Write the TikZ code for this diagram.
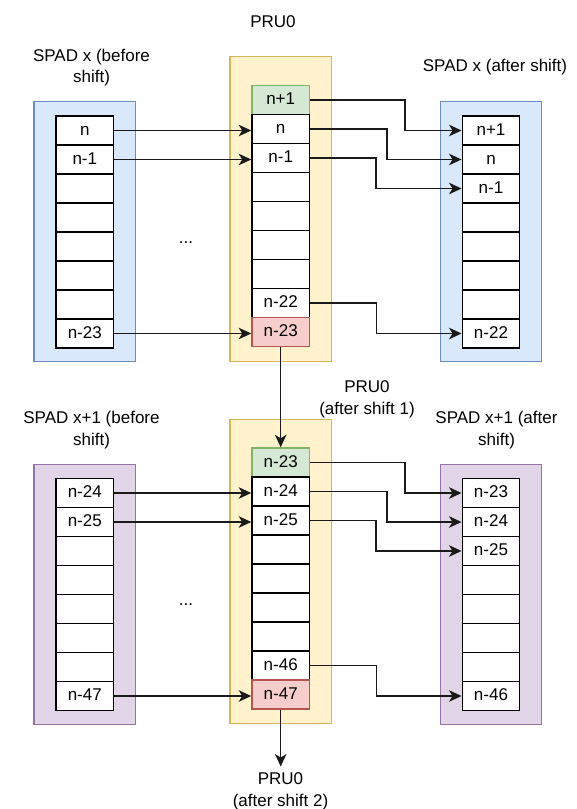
\documentclass[tikz,border=0pt]{standalone}
\usepackage{fontspec}
\setmainfont{Liberation Sans}
\usetikzlibrary{arrows.meta}

\definecolor{bluefill}{HTML}{DAE8FC}
\definecolor{bluedraw}{HTML}{6C8EBF}
\definecolor{yellowfill}{HTML}{FFF2CC}
\definecolor{yellowdraw}{HTML}{D6B656}
\definecolor{greenfill}{HTML}{D5E8D4}
\definecolor{greendraw}{HTML}{82B366}
\definecolor{redfill}{HTML}{F8CECC}
\definecolor{reddraw}{HTML}{B85450}
\definecolor{purplefill}{HTML}{E1D5E7}
\definecolor{purpledraw}{HTML}{9673A6}
\definecolor{edge}{HTML}{1A1A1A}

\begin{document}
\begin{tikzpicture}[x=1pt,y=-1pt,
  font=\fontsize{17pt}{21.5pt}\selectfont,
  panel/.style={line width=1.4pt, minimum width=101.5pt, inner sep=0pt, anchor=north},
  cell/.style={draw=black, fill=white, line width=1.45pt, minimum width=57.5pt,
    minimum height=29pt, inner sep=0pt, text height=12pt, text depth=3pt},
  conn/.style={draw=edge, line width=1.5pt, -{Stealth[length=12.5pt,width=11.5pt,inset=3.5pt]}},
  caption/.style={align=center, inner sep=0pt},
]
\useasboundingbox[fill=white] (0,0) rectangle (576,809);

% ---------- first register: SPAD x ----------
\node[panel, fill=bluefill, draw=bluedraw, minimum height=260pt] (TLp) at (84.8,101) {};
\node[panel, fill=yellowfill, draw=yellowdraw, minimum height=304.5pt] (TCp) at (280.7,56) {};
\node[panel, fill=bluefill, draw=bluedraw, minimum height=260pt] (TRp) at (491,101) {};

\foreach \t [count=\i] in {n,n-1,{},{},{},{},{},n-23}
  \node[cell] (TL\i) at (84.8,{130.5+29*(\i-1)}) {\t};

\node[cell, fill=greenfill, draw=greendraw] (TC1) at (280.7,100) {n+1};
\foreach \t [count=\i from 2] in {n,n-1,{},{},{},{},n-22}
  \node[cell] (TC\i) at (280.7,{100+29*(\i-1)}) {\t};
\node[cell, fill=redfill, draw=reddraw] (TC9) at (280.7,332) {n-23};

\foreach \t [count=\i] in {n+1,n,n-1,{},{},{},{},n-22}
  \node[cell] (TR\i) at (491,{130.5+29*(\i-1)}) {\t};

% ---------- second register: SPAD x+1 ----------
\node[panel, fill=purplefill, draw=purpledraw, minimum height=260pt] (BLp) at (84.8,463.5) {};
\node[panel, fill=yellowfill, draw=yellowdraw, minimum height=304.5pt] (BCp) at (280.7,418.5) {};
\node[panel, fill=purplefill, draw=purpledraw, minimum height=260pt] (BRp) at (491,463.5) {};

\foreach \t [count=\i] in {n-24,n-25,{},{},{},{},{},n-47}
  \node[cell] (BL\i) at (84.8,{493+29*(\i-1)}) {\t};

\node[cell, fill=greenfill, draw=greendraw] (BC1) at (280.7,462.5) {n-23};
\foreach \t [count=\i from 2] in {n-24,n-25,{},{},{},{},n-46}
  \node[cell] (BC\i) at (280.7,{462.5+29*(\i-1)}) {\t};
\node[cell, fill=redfill, draw=reddraw] (BC9) at (280.7,694.5) {n-47};

\foreach \t [count=\i] in {n-23,n-24,n-25,{},{},{},{},n-46}
  \node[cell] (BR\i) at (491,{493+29*(\i-1)}) {\t};

% ---------- captions ----------
\node[caption] (capPRU) at (273,21.7) {PRU0};
\node[caption] (capTL) at (91.5,67.5) {SPAD x (before\\shift)};
\node[caption] (capTR) at (495,66.7) {SPAD x (after shift)};
\node[caption, anchor=base] (dotsT) at (186,243) {...};

\node[caption] (capPRU1) at (367,399.3) {PRU0\\(after shift 1)};
\node[caption] (capBL) at (91.5,430) {SPAD x+1 (before\\shift)};
\node[caption] (capBR) at (496.5,430) {SPAD x+1 (after\\shift)};
\node[caption, anchor=base] (dotsB) at (186,605) {...};

\node[caption] (capPRU2) at (280.5,791.3) {PRU0\\(after shift 2)};
\coordinate (outB) at (280.7,766.5);

% ---------- connectors: first register ----------
\draw[conn] (TL1.east) -- (TL1.east -| TC2.west);
\draw[conn] (TL2.east) -- (TL2.east -| TC3.west);
\draw[conn] (TL8.east) -- (TL8.east -| TC9.west);
\draw[conn] (TC1.east) -- ++(94.6,0) |- (TR1.west);
\draw[conn] (TC2.east) -- ++(76.6,0) |- (TR2.west);
\draw[conn] (TC3.east) -- ++(65.9,0) |- (TR3.west);
\draw[conn] (TC8.east) -- ++(66.5,0) |- (TR8.west);
\draw[conn] (TC9.south) -- (BC1.north);

% ---------- connectors: second register ----------
\draw[conn] (BL1.east) -- (BL1.east -| BC2.west);
\draw[conn] (BL2.east) -- (BL2.east -| BC3.west);
\draw[conn] (BL8.east) -- (BL8.east -| BC9.west);
\draw[conn] (BC1.east) -- ++(94.6,0) |- (BR1.west);
\draw[conn] (BC2.east) -- ++(76.6,0) |- (BR2.west);
\draw[conn] (BC3.east) -- ++(65.9,0) |- (BR3.west);
\draw[conn] (BC8.east) -- ++(66.5,0) |- (BR8.west);
\draw[conn] (BC9.south) -- (outB);
\end{tikzpicture}
\end{document}
